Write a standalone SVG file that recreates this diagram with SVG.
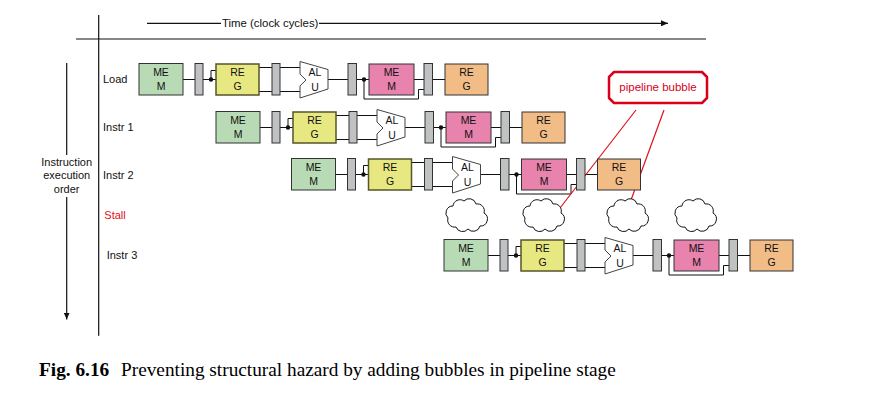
<svg xmlns="http://www.w3.org/2000/svg" width="874" height="412" viewBox="0 0 874 412">
<style>
  text { font-family: "Liberation Sans", Arial, sans-serif; font-size: 11px; fill: #111; }
  .bt { font-size: 10.5px; text-anchor: middle; }
  .mem-if { fill: #b8dbb5; stroke: #333; stroke-width: 1; }
  .reg-id { fill: #e8e882; stroke: #55552a; stroke-width: 1.5; }
  .mem-ma { fill: #e783ad; stroke: #333; stroke-width: 1; }
  .reg-wb { fill: #f2bc86; stroke: #333; stroke-width: 1; }
  .latch { fill: #bfc1c3; stroke: #333; stroke-width: 1; }
  .alu { fill: #fff; stroke: #444; stroke-width: 1; }
  .wire { fill: none; stroke: #111; stroke-width: 1; }
  .dot { fill: #111; }
  .axis { fill: none; stroke: #111; stroke-width: 1.2; }
  .cloud { fill: #fff; stroke: #111; stroke-width: 1; }
  .red { fill: none; stroke: #e0101e; stroke-width: 1.2; }
  .cap { font-family: "Liberation Serif", "Times New Roman", serif; font-size: 19.3px; fill: #000; }
</style>
<defs>
  <marker id="arr" markerUnits="userSpaceOnUse" markerWidth="7" markerHeight="6" viewBox="0 0 7 6" refX="7" refY="3" orient="auto">
    <path d="M0,0 L7,3 L0,6 Z" fill="#111"/>
  </marker>
  <path id="cloudShape" d="M-10,12 A7,7 0 0 1 -18,3 A7,7 0 0 1 -13,-9 A7,7 0 0 1 -2,-14 A7,7 0 0 1 10,-11 A7,7 0 0 1 18,-2 A7,7 0 0 1 14,11 A7,7 0 0 1 2,14 A7,7 0 0 1 -10,12 Z"/>
</defs>
<rect width="874" height="412" fill="#fff"/>

<!-- axes -->
<g id="axes">
  <line class="axis" x1="76" y1="39" x2="706" y2="39"/>
  <line class="axis" x1="98.7" y1="15" x2="98.7" y2="335.7"/>
  <line class="axis" x1="147" y1="23.3" x2="221" y2="23.3"/>
  <text x="222" y="27.3" style="font-size:11.4px">Time (clock cycles)</text>
  <line class="axis" x1="319" y1="23.3" x2="668" y2="23.3" marker-end="url(#arr)"/>
  <line class="axis" x1="66.7" y1="63" x2="66.7" y2="155"/>
  <line class="axis" x1="66.7" y1="197" x2="66.7" y2="319.5" marker-end="url(#arr)"/>
  <text x="66.7" y="166" text-anchor="middle">Instruction</text>
  <text x="66.7" y="179.3" text-anchor="middle">execution</text>
  <text x="66.7" y="192.7" text-anchor="middle">order</text>
</g>

<!-- row labels -->
<g id="labels">
  <text x="103" y="82.7">Load</text>
  <text x="103" y="131">Instr 1</text>
  <text x="103" y="179">Instr 2</text>
  <text x="104.3" y="219" style="fill:#e0101e">Stall</text>
  <text x="106.7" y="259">Instr 3</text>
</g>

<!-- connectors -->
<g id="connectors">
  <g transform="translate(139,63.5)">
    <path class="wire" d="M44,16 H56 M64,16 H77 M72,16 V7 H77 M120,4 H133 M120,28 H133 M141,4 H161 M141,28 H161 M189,16 H209 M217.5,16 H230 M275,16 H285 M225,16 V35.5 H279.5 V26 H285 M293.5,16 H306"/>
    <circle class="dot" cx="72" cy="16" r="2.2"/><circle class="dot" cx="225" cy="16" r="2.2"/>
  </g>
  <g transform="translate(216,111.5)">
    <path class="wire" d="M44,16 H56 M64,16 H77 M72,16 V7 H77 M120,4 H133 M120,28 H133 M141,4 H161 M141,28 H161 M189,16 H209 M217.5,16 H230 M275,16 H285 M225,16 V35.5 H279.5 V26 H285 M293.5,16 H306"/>
    <circle class="dot" cx="72" cy="16" r="2.2"/><circle class="dot" cx="225" cy="16" r="2.2"/>
  </g>
  <g transform="translate(291.5,158.5)">
    <path class="wire" d="M44,16 H56 M64,16 H77 M72,16 V7 H77 M120,4 H133 M120,28 H133 M141,4 H161 M141,28 H161 M189,16 H209 M217.5,16 H230 M275,16 H285 M225,16 V35.5 H279.5 V26 H285 M293.5,16 H306"/>
    <circle class="dot" cx="72" cy="16" r="2.2"/><circle class="dot" cx="225" cy="16" r="2.2"/>
  </g>
  <g transform="translate(444,239.5)">
    <path class="wire" d="M44,16 H56 M64,16 H77 M72,16 V7 H77 M120,4 H133 M120,28 H133 M141,4 H161 M141,28 H161 M189,16 H209 M217.5,16 H230 M275,16 H285 M225,16 V35.5 H279.5 V26 H285 M293.5,16 H306"/>
    <circle class="dot" cx="72" cy="16" r="2.2"/><circle class="dot" cx="225" cy="16" r="2.2"/>
  </g>
  <line class="red" x1="636" y1="110" x2="560" y2="208"/>
  <line class="red" x1="664" y1="110" x2="631" y2="200"/>
</g>

<!-- Row: Load -->
<g transform="translate(139,63.5)">
  <g id="load-mem"><rect class="mem-if" x="0" y="0" width="44" height="31.5"/><text class="bt" x="22" y="12.2">ME</text><text class="bt" x="22" y="26">M</text></g>
  <g id="load-l1"><rect class="latch" x="56" y="0" width="8" height="31.5"/></g>
  <g id="load-reg"><rect class="reg-id" x="77" y="0.5" width="43" height="31"/><text class="bt" x="98.5" y="12.2">RE</text><text class="bt" x="98.5" y="26">G</text></g>
  <g id="load-l2"><rect class="latch" x="133" y="0" width="8" height="31.5"/></g>
  <g id="load-alu"><polygon class="alu" points="161,-2 189,6 189,25.5 161,34.5 161,22.5 167,16.5 161,10.5"/><text class="bt" x="176" y="12">AL</text><text class="bt" x="176" y="27">U</text></g>
  <g id="load-l3"><rect class="latch" x="209" y="0" width="8.5" height="31.5"/></g>
  <g id="load-mem2"><rect class="mem-ma" x="230" y="0.5" width="45" height="31"/><text class="bt" x="252.5" y="12.2">ME</text><text class="bt" x="252.5" y="26">M</text></g>
  <g id="load-l4"><rect class="latch" x="285" y="0" width="8.5" height="31.5"/></g>
  <g id="load-wb"><rect class="reg-wb" x="306" y="0.5" width="43" height="31"/><text class="bt" x="327.5" y="12.2">RE</text><text class="bt" x="327.5" y="26">G</text></g>
</g>

<!-- Row: Instr 1 -->
<g transform="translate(216,111.5)">
  <g id="i1-mem"><rect class="mem-if" x="0" y="0" width="44" height="31.5"/><text class="bt" x="22" y="12.2">ME</text><text class="bt" x="22" y="26">M</text></g>
  <g id="i1-l1"><rect class="latch" x="56" y="0" width="8" height="31.5"/></g>
  <g id="i1-reg"><rect class="reg-id" x="77" y="0.5" width="43" height="31"/><text class="bt" x="98.5" y="12.2">RE</text><text class="bt" x="98.5" y="26">G</text></g>
  <g id="i1-l2"><rect class="latch" x="133" y="0" width="8" height="31.5"/></g>
  <g id="i1-alu"><polygon class="alu" points="161,-2 189,6 189,25.5 161,34.5 161,22.5 167,16.5 161,10.5"/><text class="bt" x="176" y="12">AL</text><text class="bt" x="176" y="27">U</text></g>
  <g id="i1-l3"><rect class="latch" x="209" y="0" width="8.5" height="31.5"/></g>
  <g id="i1-mem2"><rect class="mem-ma" x="230" y="0.5" width="45" height="31"/><text class="bt" x="252.5" y="12.2">ME</text><text class="bt" x="252.5" y="26">M</text></g>
  <g id="i1-l4"><rect class="latch" x="285" y="0" width="8.5" height="31.5"/></g>
  <g id="i1-wb"><rect class="reg-wb" x="306" y="0.5" width="43" height="31"/><text class="bt" x="327.5" y="12.2">RE</text><text class="bt" x="327.5" y="26">G</text></g>
</g>

<!-- Row: Instr 2 -->
<g transform="translate(291.5,158.5)">
  <g id="i2-mem"><rect class="mem-if" x="0" y="0" width="44" height="31.5"/><text class="bt" x="22" y="12.2">ME</text><text class="bt" x="22" y="26">M</text></g>
  <g id="i2-l1"><rect class="latch" x="56" y="0" width="8" height="31.5"/></g>
  <g id="i2-reg"><rect class="reg-id" x="77" y="0.5" width="43" height="31"/><text class="bt" x="98.5" y="12.2">RE</text><text class="bt" x="98.5" y="26">G</text></g>
  <g id="i2-l2"><rect class="latch" x="133" y="0" width="8" height="31.5"/></g>
  <g id="i2-alu"><polygon class="alu" points="161,-2 189,6 189,25.5 161,34.5 161,22.5 167,16.5 161,10.5"/><text class="bt" x="176" y="12">AL</text><text class="bt" x="176" y="27">U</text></g>
  <g id="i2-l3"><rect class="latch" x="209" y="0" width="8.5" height="31.5"/></g>
  <g id="i2-mem2"><rect class="mem-ma" x="230" y="0.5" width="45" height="31"/><text class="bt" x="252.5" y="12.2">ME</text><text class="bt" x="252.5" y="26">M</text></g>
  <g id="i2-l4"><rect class="latch" x="285" y="0" width="8.5" height="31.5"/></g>
  <g id="i2-wb"><rect class="reg-wb" x="306" y="0.5" width="43" height="31"/><text class="bt" x="327.5" y="12.2">RE</text><text class="bt" x="327.5" y="26">G</text></g>
</g>

<!-- Stall bubbles -->
<g id="bubble1" transform="translate(466,215)"><use href="#cloudShape" class="cloud"/></g>
<g id="bubble2" transform="translate(543,215)"><use href="#cloudShape" class="cloud"/></g>
<g id="bubble3" transform="translate(627,215)"><use href="#cloudShape" class="cloud"/></g>
<g id="bubble4" transform="translate(695,215)"><use href="#cloudShape" class="cloud"/></g>

<!-- Row: Instr 3 -->
<g transform="translate(444,239.5)">
  <g id="i3-mem"><rect class="mem-if" x="0" y="0" width="44" height="31.5"/><text class="bt" x="22" y="12.2">ME</text><text class="bt" x="22" y="26">M</text></g>
  <g id="i3-l1"><rect class="latch" x="56" y="0" width="8" height="31.5"/></g>
  <g id="i3-reg"><rect class="reg-id" x="77" y="0.5" width="43" height="31"/><text class="bt" x="98.5" y="12.2">RE</text><text class="bt" x="98.5" y="26">G</text></g>
  <g id="i3-l2"><rect class="latch" x="133" y="0" width="8" height="31.5"/></g>
  <g id="i3-alu"><polygon class="alu" points="161,-2 189,6 189,25.5 161,34.5 161,22.5 167,16.5 161,10.5"/><text class="bt" x="176" y="12">AL</text><text class="bt" x="176" y="27">U</text></g>
  <g id="i3-l3"><rect class="latch" x="209" y="0" width="8.5" height="31.5"/></g>
  <g id="i3-mem2"><rect class="mem-ma" x="230" y="0.5" width="45" height="31"/><text class="bt" x="252.5" y="12.2">ME</text><text class="bt" x="252.5" y="26">M</text></g>
  <g id="i3-l4"><rect class="latch" x="285" y="0" width="8.5" height="31.5"/></g>
  <g id="i3-wb"><rect class="reg-wb" x="306" y="0.5" width="43" height="31"/><text class="bt" x="327.5" y="12.2">RE</text><text class="bt" x="327.5" y="26">G</text></g>
</g>

<!-- callout -->
<g id="callout">
  <path d="M614,72 H702 L707,77 V98 L702,103 H614 L609,98 V77 Z" fill="#fff" stroke="#d8001a" stroke-width="2.5" stroke-linejoin="round"/>
  <text x="658" y="90.7" text-anchor="middle" style="fill:#d8001a;font-size:11.5px">pipeline bubble</text>
</g>

<!-- caption -->
<g id="caption">
  <text class="cap" x="39" y="375.7" style="font-weight:bold">Fig. 6.16</text>
  <text class="cap" x="121" y="375.7">Preventing structural hazard by adding bubbles in pipeline stage</text>
</g>
</svg>
